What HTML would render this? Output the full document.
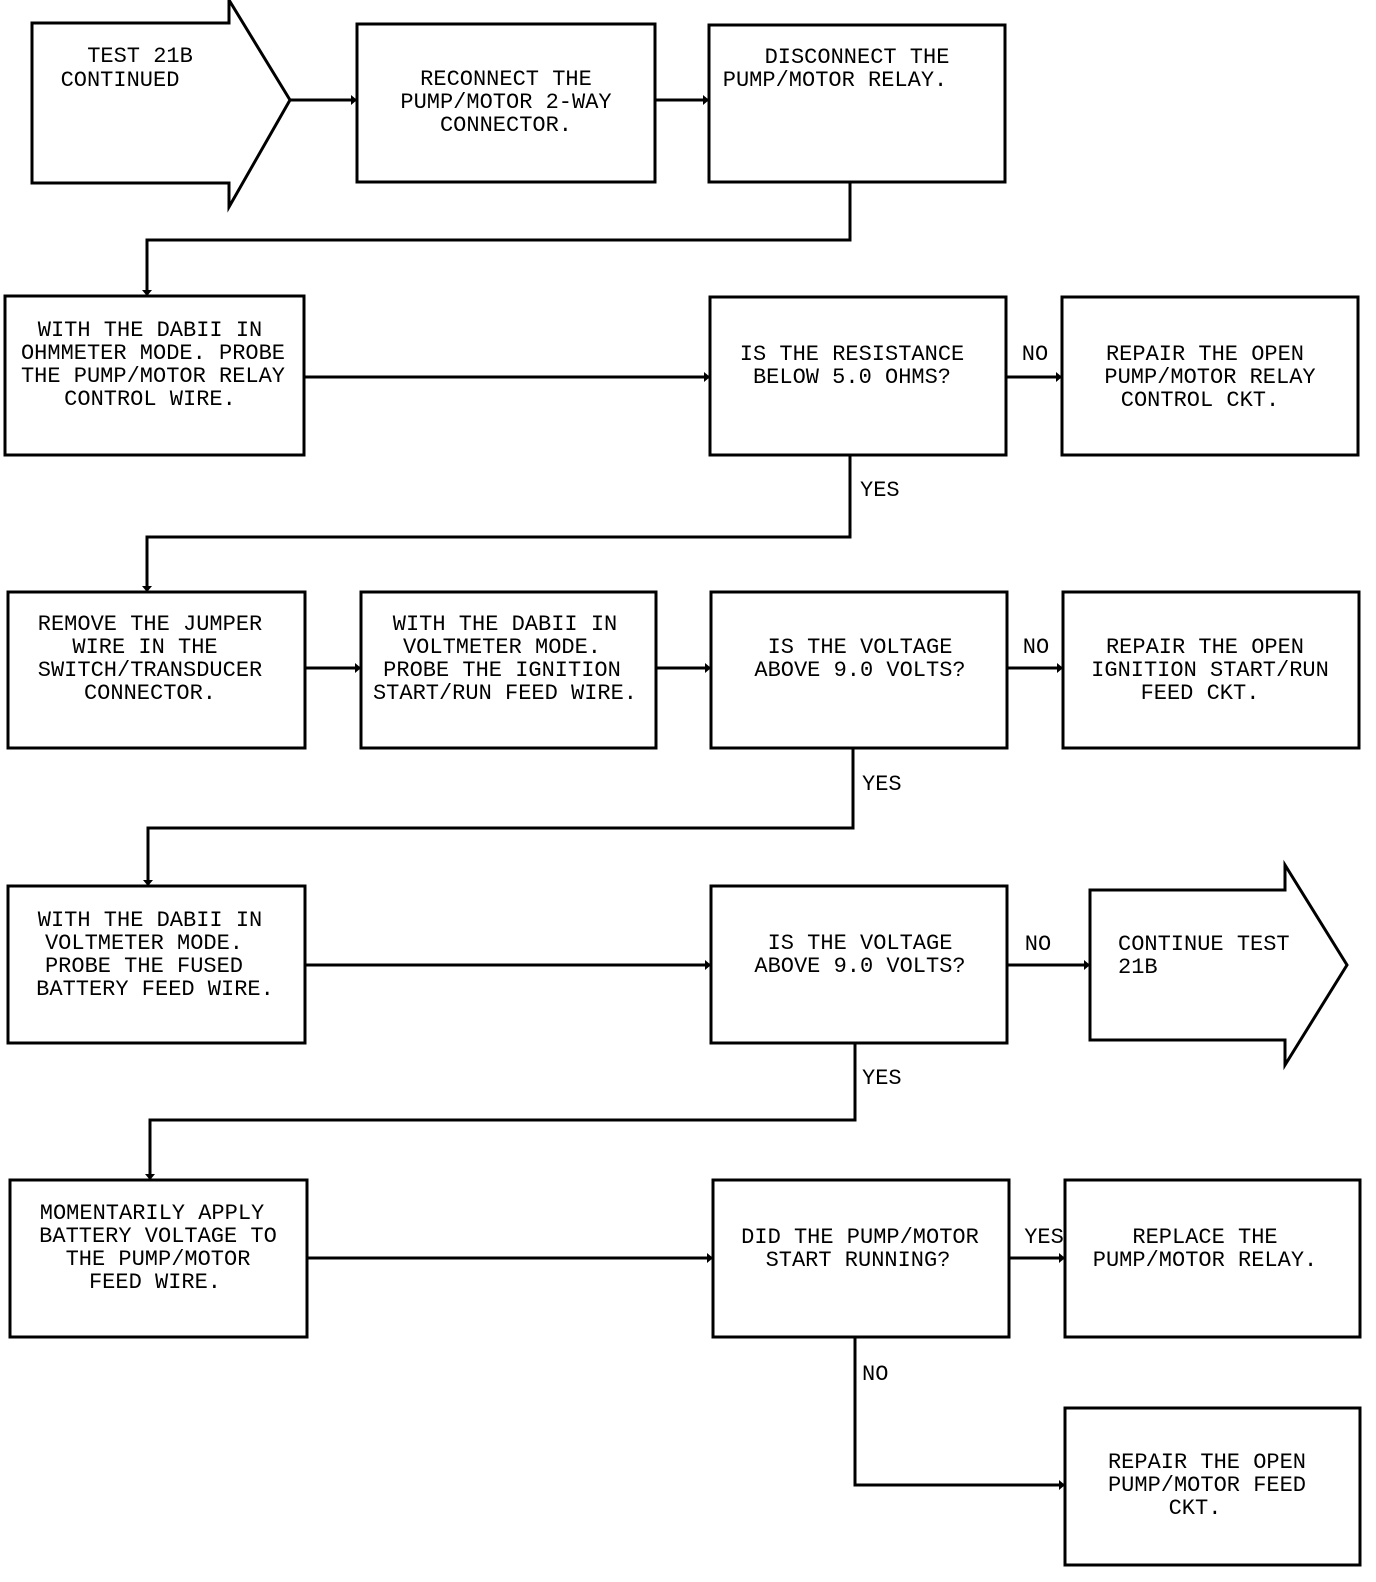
<!DOCTYPE html>
<html><head><meta charset="utf-8"><style>
html,body{margin:0;padding:0;background:#fff}
svg{display:block}
text{font-family:"Liberation Mono","DejaVu Sans Mono",monospace;font-size:22px;fill:#000;text-anchor:middle}
.l{text-anchor:start}
</style></head><body>
<svg width="1376" height="1582" viewBox="0 0 1376 1582" xmlns="http://www.w3.org/2000/svg">
<g fill="none" stroke="#000" stroke-width="3">
<polygon points="32,23 229,23 229,0 290,100 229,207 229,183 32,183"/>
<rect x="357" y="24" width="298" height="158"/>
<rect x="709" y="25" width="296" height="157"/>
<polyline points="850,182 850,240 147,240 147,296"/>
<line x1="290" y1="100" x2="357" y2="100"/>
<line x1="655" y1="100" x2="709" y2="100"/>

<rect x="5" y="296" width="299" height="159"/>
<rect x="710" y="297" width="296" height="158"/>
<rect x="1062" y="297" width="296" height="158"/>
<line x1="304" y1="377" x2="710" y2="377"/>
<line x1="1006" y1="377" x2="1062" y2="377"/>
<polyline points="850,455 850,537 147,537 147,592"/>

<rect x="8" y="592" width="297" height="156"/>
<rect x="361" y="592" width="295" height="156"/>
<rect x="711" y="592" width="296" height="156"/>
<rect x="1063" y="592" width="296" height="156"/>
<line x1="305" y1="668" x2="361" y2="668"/>
<line x1="656" y1="668" x2="711" y2="668"/>
<line x1="1007" y1="668" x2="1063" y2="668"/>
<polyline points="853,748 853,828 148,828 148,886"/>

<rect x="8" y="886" width="297" height="157"/>
<rect x="711" y="886" width="296" height="157"/>
<polygon points="1090,890 1285,890 1285,865 1347,965 1285,1065 1285,1040 1090,1040"/>
<line x1="305" y1="965" x2="711" y2="965"/>
<line x1="1007" y1="965" x2="1090" y2="965"/>
<polyline points="855,1043 855,1120 150,1120 150,1180"/>

<rect x="10" y="1180" width="297" height="157"/>
<rect x="713" y="1180" width="296" height="157"/>
<rect x="1065" y="1180" width="295" height="157"/>
<line x1="307" y1="1258" x2="713" y2="1258"/>
<line x1="1009" y1="1258" x2="1065" y2="1258"/>
<polyline points="855,1337 855,1485 1065,1485"/>
<rect x="1065" y="1408" width="295" height="157"/>
</g>
<g fill="#000">
<polygon points="351,95 357,100 351,105"/>
<polygon points="703,95 709,100 703,105"/>
<polygon points="142,290 147,296 152,290"/>
<polygon points="704,372 710,377 704,382"/>
<polygon points="1056,372 1062,377 1056,382"/>
<polygon points="142,586 147,592 152,586"/>
<polygon points="355,663 361,668 355,673"/>
<polygon points="705,663 711,668 705,673"/>
<polygon points="1057,663 1063,668 1057,673"/>
<polygon points="143,880 148,886 153,880"/>
<polygon points="705,960 711,965 705,970"/>
<polygon points="1084,960 1090,965 1084,970"/>
<polygon points="145,1174 150,1180 155,1174"/>
<polygon points="707,1253 713,1258 707,1263"/>
<polygon points="1059,1253 1065,1258 1059,1263"/>
<polygon points="1059,1480 1065,1485 1059,1490"/>
</g>

<text x="140" y="62">TEST 21B</text>
<text x="120" y="86">CONTINUED</text>
<text x="506" y="85">RECONNECT THE</text>
<text x="506" y="108">PUMP/MOTOR 2-WAY</text>
<text x="506" y="131">CONNECTOR.</text>
<text x="857" y="63">DISCONNECT THE</text>
<text x="835" y="86">PUMP/MOTOR RELAY.</text>

<text x="150" y="336">WITH THE DABII IN</text>
<text x="153" y="359">OHMMETER MODE. PROBE</text>
<text x="153" y="382">THE PUMP/MOTOR RELAY</text>
<text x="150" y="405">CONTROL WIRE.</text>
<text x="852" y="360">IS THE RESISTANCE</text>
<text x="852" y="383">BELOW 5.0 OHMS?</text>
<text x="1035" y="360">NO</text>
<text x="1205" y="360">REPAIR THE OPEN</text>
<text x="1210" y="383">PUMP/MOTOR RELAY</text>
<text x="1200" y="406">CONTROL CKT.</text>
<text class="l" x="860" y="496">YES</text>

<text x="150" y="630">REMOVE THE JUMPER</text>
<text x="145" y="653">WIRE IN THE</text>
<text x="150" y="676">SWITCH/TRANSDUCER</text>
<text x="150" y="699">CONNECTOR.</text>
<text x="505" y="630">WITH THE DABII IN</text>
<text x="502" y="653">VOLTMETER MODE.</text>
<text x="502" y="676">PROBE THE IGNITION</text>
<text x="505" y="699">START/RUN FEED WIRE.</text>
<text x="860" y="653">IS THE VOLTAGE</text>
<text x="860" y="676">ABOVE 9.0 VOLTS?</text>
<text x="1036" y="653">NO</text>
<text x="1205" y="653">REPAIR THE OPEN</text>
<text x="1210" y="676">IGNITION START/RUN</text>
<text x="1200" y="699">FEED CKT.</text>
<text class="l" x="862" y="790">YES</text>

<text x="150" y="926">WITH THE DABII IN</text>
<text x="144" y="949">VOLTMETER MODE.</text>
<text x="144" y="972">PROBE THE FUSED</text>
<text x="155" y="995">BATTERY FEED WIRE.</text>
<text x="860" y="949">IS THE VOLTAGE</text>
<text x="860" y="972">ABOVE 9.0 VOLTS?</text>
<text x="1038" y="950">NO</text>
<text class="l" x="1118" y="950">CONTINUE TEST</text>
<text class="l" x="1118" y="973">21B</text>
<text class="l" x="862" y="1084">YES</text>

<text x="152" y="1219">MOMENTARILY APPLY</text>
<text x="158" y="1242">BATTERY VOLTAGE TO</text>
<text x="158" y="1265">THE PUMP/MOTOR</text>
<text x="155" y="1288">FEED WIRE.</text>
<text x="860" y="1243">DID THE PUMP/MOTOR</text>
<text x="858" y="1266">START RUNNING?</text>
<text x="1044" y="1243">YES</text>
<text x="1205" y="1243">REPLACE THE</text>
<text x="1205" y="1266">PUMP/MOTOR RELAY.</text>
<text class="l" x="862" y="1380">NO</text>
<text x="1207" y="1468">REPAIR THE OPEN</text>
<text x="1207" y="1491">PUMP/MOTOR FEED</text>
<text x="1195" y="1514">CKT.</text>
</svg>
</body></html>
